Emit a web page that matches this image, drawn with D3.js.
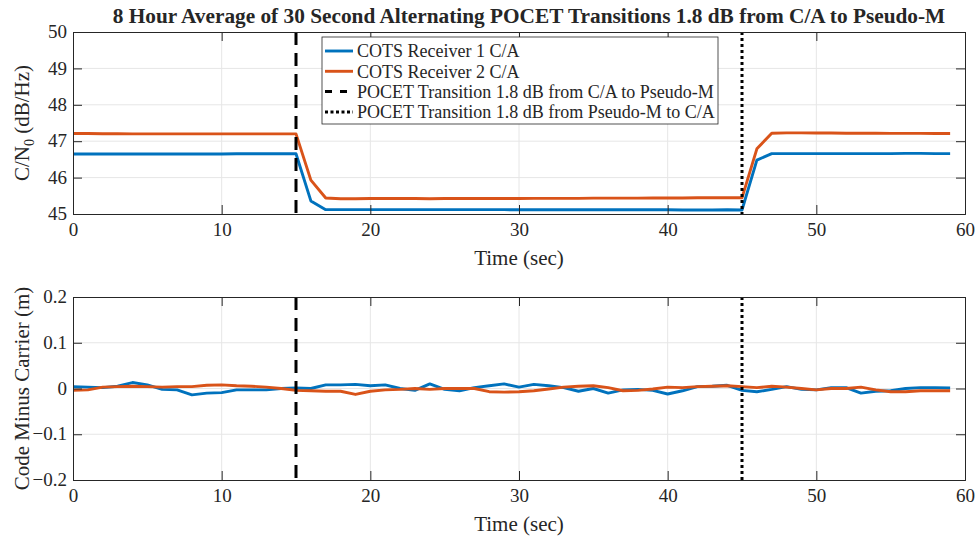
<!DOCTYPE html>
<html>
<head>
<meta charset="utf-8">
<script src="https://cdn.jsdelivr.net/npm/d3@7"></script>
<style>
  html, body { margin: 0; padding: 0; background: #fff; }
  svg text { font-family: "Liberation Serif", "Times New Roman", serif; fill: #262626; }
</style>
</head>
<body>
<svg id="chart" width="979" height="540"></svg>
<script>
// Time axis (seconds) shared by both panels
const timeSec = d3.range(0, 60);

// C/N0 averages (dB/Hz)
const cn0Rx1 = [46.65,46.65,46.65,46.65,46.65,46.65,46.65,46.65,46.65,46.65,46.65,46.655,46.655,46.655,46.655,46.655,
  45.36,45.12,45.12,45.12,45.12,45.12,45.12,45.12,45.12,45.12,45.12,45.12,45.12,45.12,45.115,45.115,45.115,45.115,
  45.115,45.115,45.115,45.115,45.115,45.115,45.115,45.11,45.11,45.11,45.115,45.11,
  46.48,46.66,46.66,46.66,46.66,46.66,46.66,46.66,46.66,46.66,46.665,46.665,46.66,46.66];
const cn0Rx2 = [47.21,47.21,47.205,47.205,47.2,47.2,47.2,47.2,47.2,47.2,47.2,47.2,47.2,47.2,47.2,47.2,
  45.93,45.44,45.42,45.42,45.425,45.425,45.425,45.425,45.42,45.425,45.425,45.425,45.425,45.425,45.425,45.43,45.43,
  45.43,45.43,45.435,45.435,45.435,45.435,45.44,45.44,45.44,45.445,45.445,45.445,45.445,
  46.79,47.22,47.23,47.23,47.225,47.225,47.22,47.22,47.22,47.215,47.215,47.215,47.21,47.21];

// Code minus carrier averages (m)
const cmcRx1 = [0.004,0.003,0.002,0.005,0.013,0.008,-0.002,-0.003,-0.014,-0.010,-0.009,-0.003,-0.003,-0.003,0.000,0.001,
  0.000,0.008,0.008,0.009,0.006,0.008,0.000,-0.004,0.010,-0.002,-0.005,0.002,0.006,0.010,0.003,0.009,0.006,0.002,
  -0.006,0.000,-0.010,-0.003,-0.002,-0.004,-0.012,-0.005,0.004,0.005,0.007,-0.004,-0.007,-0.002,0.004,-0.002,
  -0.003,0.002,0.002,-0.010,-0.006,-0.005,0.000,0.002,0.002,0.001];
const cmcRx2 = [-0.004,-0.003,0.003,0.004,0.005,0.004,0.003,0.004,0.004,0.007,0.008,0.006,0.005,0.003,0.000,-0.004,
  -0.005,-0.006,-0.006,-0.013,-0.006,-0.003,-0.002,0.000,-0.002,0.000,0.000,0.000,-0.007,-0.008,-0.007,-0.005,
  -0.001,0.003,0.005,0.006,0.002,-0.005,-0.004,-0.001,0.003,0.002,0.004,0.005,0.006,0.004,0.002,0.005,0.003,0.000,
  -0.003,0.000,0.000,0.003,-0.003,-0.007,-0.007,-0.005,-0.005,-0.005];

// POCET transition instants (s)
const transitionToPseudoM = 15;
const transitionToCA = 45;

const xTicks = [0, 10, 20, 30, 40, 50, 60];
const cn0Ticks = [45, 46, 47, 48, 49, 50];
const cmcTicks = [-0.2, -0.1, 0, 0.1, 0.2];

const seriesNames = ["COTS Receiver 1 C/A", "COTS Receiver 2 C/A",
  "POCET Transition 1.8 dB from C/A to Pseudo-M", "POCET Transition 1.8 dB from Pseudo-M to C/A"];
const titleText = "8 Hour Average of 30 Second Alternating POCET Transitions 1.8 dB from C/A to Pseudo-M";

const blue = "#0072BD", orange = "#D95319", axisCol = "#262626", gridCol = "#e6e6e6";
const dashPat = "13,8", dotPat = "3,3";

const svg = d3.select("#chart");

const left = 73, right = 965;
const x = d3.scaleLinear().domain([0, 60]).range([left, right]);

function panel(top, bottom, yDomain, yTicks, yFmt, d1, d2, yLabel, withSub) {
  const y = d3.scaleLinear().domain(yDomain).range([bottom, top]);
  const g = svg.append("g");

  // grid
  g.selectAll(".gx").data(xTicks.slice(1, -1)).join("line")
    .attr("x1", d => x(d)).attr("x2", d => x(d)).attr("y1", top).attr("y2", bottom)
    .attr("stroke", gridCol).attr("stroke-width", 1);
  g.selectAll(".gy").data(yTicks.slice(1, -1)).join("line")
    .attr("x1", left).attr("x2", right).attr("y1", d => y(d)).attr("y2", d => y(d))
    .attr("stroke", gridCol).attr("stroke-width", 1);

  // data lines
  const line = d3.line().x((d, i) => x(timeSec[i])).y(d => y(d));
  [[d1, blue], [d2, orange]].forEach(([data, col]) => {
    g.append("path").datum(data).attr("d", line)
      .attr("fill", "none").attr("stroke", col).attr("stroke-width", 2.9)
      .attr("stroke-linejoin", "round");
  });

  // transition markers
  g.append("line").attr("x1", x(transitionToPseudoM)).attr("x2", x(transitionToPseudoM))
    .attr("y1", top).attr("y2", bottom).attr("stroke", "#000").attr("stroke-width", 3)
    .attr("stroke-dasharray", dashPat);
  g.append("line").attr("x1", x(transitionToCA)).attr("x2", x(transitionToCA))
    .attr("y1", top).attr("y2", bottom).attr("stroke", "#000").attr("stroke-width", 3)
    .attr("stroke-dasharray", dotPat);

  // axes (ticks inward, box on)
  const fs = "19px";
  const axB = g.append("g").attr("transform", `translate(0,${bottom})`)
    .call(d3.axisBottom(x).tickValues(xTicks).tickSize(-9).tickPadding(8).tickFormat(d3.format("d")));
  const axT = g.append("g").attr("transform", `translate(0,${top})`)
    .call(d3.axisTop(x).tickValues(xTicks).tickSize(-9).tickFormat(""));
  const axL = g.append("g").attr("transform", `translate(${left},0)`)
    .call(d3.axisLeft(y).tickValues(yTicks).tickSize(-9).tickPadding(6).tickFormat(yFmt));
  const axR = g.append("g").attr("transform", `translate(${right},0)`)
    .call(d3.axisRight(y).tickValues(yTicks).tickSize(-9).tickFormat(""));
  [axB, axT, axL, axR].forEach(a => {
    a.select(".domain").attr("stroke", axisCol).attr("stroke-width", 1);
    a.selectAll(".tick line").attr("stroke", axisCol);
    a.selectAll("text").attr("font-size", fs).attr("fill", axisCol)
      .style("font-family", "'Liberation Serif', serif");
  });
  axB.selectAll("text").attr("dy", "0.75em");
  axL.selectAll("text").attr("dy", "0.3em");

  // axis labels
  g.append("text").attr("x", (left + right) / 2).attr("y", bottom + 51)
    .attr("text-anchor", "middle").attr("font-size", "21px").text("Time (sec)");
  const yl = g.append("text")
    .attr("transform", `translate(29,${(top + bottom) / 2}) rotate(-90)`)
    .attr("text-anchor", "middle").attr("font-size", "21px");
  if (withSub) {
    yl.append("tspan").text("C/N");
    yl.append("tspan").attr("font-size", "14px").attr("dy", "5").text("0");
    yl.append("tspan").attr("dy", "-5").text(" (dB/Hz)");
  } else {
    yl.text(yLabel);
  }
  return y;
}

panel(32, 214, [45, 50], cn0Ticks, d3.format("d"), cn0Rx1, cn0Rx2, "", true);
panel(297, 480, [-0.2, 0.2], cmcTicks, d => d === 0 ? "0" : d3.format(".1f")(d),
  cmcRx1, cmcRx2, "Code Minus Carrier (m)", false);

// title
svg.append("text").attr("x", 529).attr("y", 23)
  .attr("text-anchor", "middle").attr("font-size", "21.3px").attr("font-weight", "bold")
  .attr("fill", "#000").text(titleText);

// legend
const lg = svg.append("g");
lg.append("rect").attr("x", 322).attr("y", 37).attr("width", 396).attr("height", 87)
  .attr("fill", "#fff").attr("stroke", axisCol).attr("stroke-width", 0.8);
const legStyles = [
  { col: blue, dash: null, w: 2.9 },
  { col: orange, dash: null, w: 2.9 },
  { col: "#000", dash: "7,8", w: 3 },
  { col: "#000", dash: "3,2.5", w: 3 }
];
seriesNames.forEach((name, i) => {
  const cy = 51 + i * 20.3;
  const s = legStyles[i];
  lg.append("line").attr("x1", 325).attr("x2", 353).attr("y1", cy).attr("y2", cy)
    .attr("stroke", s.col).attr("stroke-width", s.w)
    .attr("stroke-dasharray", s.dash);
  lg.append("text").attr("x", 357).attr("y", cy).attr("dy", "0.35em")
    .attr("font-size", "18px").attr("fill", "#000").text(name);
});
</script>
</body>
</html>
